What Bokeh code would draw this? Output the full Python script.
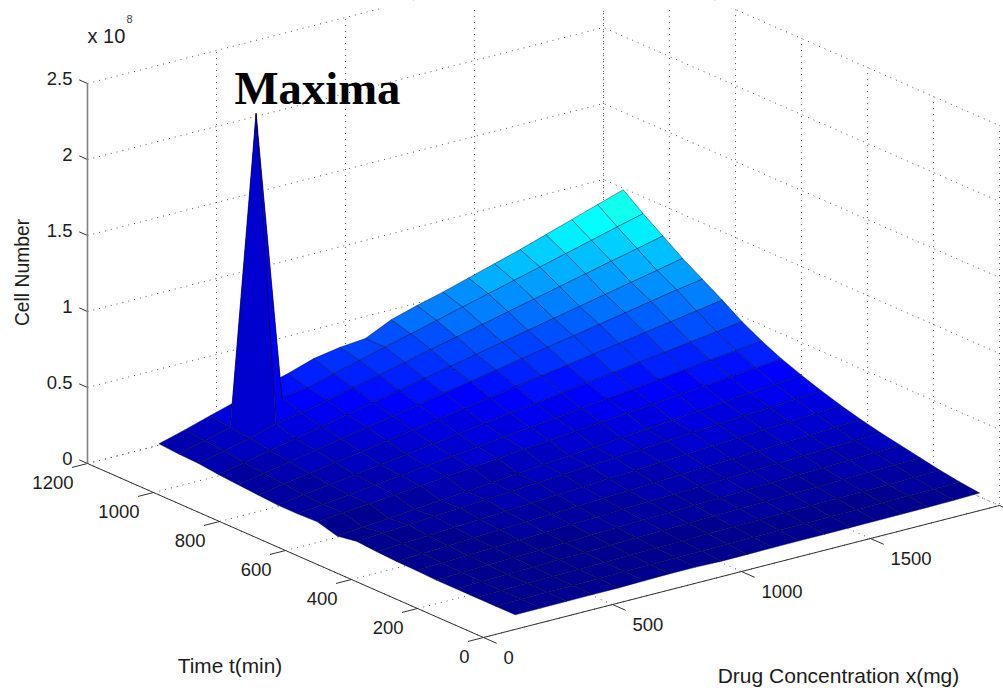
from bokeh.plotting import figure
from bokeh.models import Range1d
from bokeh.core.properties import value
from bokeh.embed import file_html
from bokeh.resources import INLINE
import numpy as np

drug_mg = [200, 300, 400, 500, 600, 700, 800, 900, 1000, 1100, 1200, 1300, 1400, 1500, 1600, 1700, 1800, 1900, 2000]
time_min = [60, 120, 180, 240, 300, 360, 420, 480, 540, 600, 660, 720, 780, 840, 900, 960, 1020, 1080, 1140]

# cell number in units of 1e8; one row per time_min, one column per drug_mg
cells_t60 = [.005, .006, .007, .008, .008, .012, .015, .015, .011, .012, .013, .014, .014, .015, .016, .017, .018, .020, .025]
cells_t120 = [.005, .007, .009, .011, .013, .015, .017, .019, .021, .023, .024, .026, .028, .030, .032, .034, .036, .038, .040]
cells_t180 = [.005, .008, .011, .014, .017, .020, .023, .026, .029, .033, .036, .039, .042, .045, .048, .051, .054, .057, .060]
cells_t240 = [.005, .009, .014, .018, .023, .027, .032, .036, .041, .045, .049, .054, .058, .063, .067, .072, .076, .081, .085]
cells_t300 = [.005, .011, .017, .023, .028, .034, .040, .046, .052, .057, .063, .069, .075, .081, .087, .092, .098, .104, .110]
cells_t360 = [.010, .017, .024, .031, .038, .045, .052, .059, .066, .073, .079, .086, .093, .100, .107, .114, .121, .128, .135]
cells_t420 = [.013, .021, .030, .038, .047, .055, .064, .072, .081, .089, .097, .106, .114, .123, .131, .140, .148, .157, .165]
cells_t480 = [.020, .030, .040, .050, .060, .070, .080, .090, .100, .110, .120, .130, .140, .150, .160, .170, .180, .190, .200]
cells_t540 = [.030, .042, .053, .065, .077, .088, .100, .112, .123, .135, .147, .158, .170, .182, .193, .205, .217, .228, .240]
cells_t600 = [.008, .024, .039, .054, .070, .085, .100, .116, .131, .146, .162, .177, .192, .208, .223, .238, .254, .269, .285]
cells_t660 = [.045, .061, .077, .093, .109, .126, .142, .158, .174, .190, .206, .222, .238, .254, .271, .287, .303, .319, .335]
cells_t720 = [.040, .060, .079, .099, .119, .139, .158, .178, .198, .218, .237, .257, .277, .296, .316, .336, .356, .375, .395]
cells_t780 = [.040, .064, .087, .111, .134, .158, .182, .205, .229, .253, .276, .300, .323, .347, .371, .394, .418, .441, .465]
cells_t840 = [.050, .078, .106, .133, .161, .189, .217, .244, .272, .300, .328, .356, .383, .411, .439, .467, .494, .522, .550]
cells_t900 = [.060, .092, .124, .156, .188, .220, .252, .284, .316, .348, .379, .411, .443, .475, .507, .539, .571, .603, .630]
cells_t960 = [.070, .106, .141, .177, .212, .248, .283, .319, .354, .390, .426, .461, .497, .532, .568, .603, .639, .674, .710]
cells_t1020 = [.085, .125, .164, .220, .244, .284, .323, .363, .403, .443, .482, .522, .562, .602, .641, .681, .721, .760, .800]
cells_t1080 = [.090, .134, .180, 2.20, .290, .310, .357, .401, .446, .490, .534, .579, .623, .668, .712, .757, .801, .846, .890]
cells_t1140 = [.100, .148, .200, .250, .300, .345, .400, .430, .445, .525, .575, .620, .670, .720, .770, .825, .880, .935, .990]

x_ticks = [0, 500, 1000, 1500, 2000]
t_ticks = [0, 200, 400, 600, 800, 1000, 1200]
z_ticks = [0, 0.5, 1, 1.5, 2, 2.5]
x_tick_labels = ["0", "500", "1000", "1500"]
t_tick_labels = ["0", "200", "400", "600", "800", "1000", "1200"]
z_tick_labels = ["0", "0.5", "1", "1.5", "2", "2.5"]

X_MAX, T_MAX, Z_MAX = 2000, 1200, 2.5
cells = np.array([cells_t60, cells_t120, cells_t180, cells_t240, cells_t300, cells_t360, cells_t420,
                  cells_t480, cells_t540, cells_t600, cells_t660, cells_t720, cells_t780, cells_t840,
                  cells_t900, cells_t960, cells_t1020, cells_t1080, cells_t1140])


def sx(x, t, z=0.0):
    return 483 + np.asarray(x) * 0.258 - np.asarray(t) * 0.33


def sy(x, t, z=0.0):
    return 637 - np.asarray(x) * 0.066 - np.asarray(t) * 0.145 - np.asarray(z) * 152


def jet(v):
    i = int(np.clip(np.floor(v * 64), 0, 63))
    f = (i + 1) / 64
    r = np.clip(min(4 * f - 1.5, -4 * f + 4.5), 0, 1)
    g = np.clip(min(4 * f - 0.5, -4 * f + 3.5), 0, 1)
    b = np.clip(min(4 * f + 0.5, -4 * f + 2.5), 0, 1)
    return "#%02x%02x%02x" % (round(r * 255), round(g * 255), round(b * 255))


p = figure(width=1003, height=688, x_range=Range1d(0, 1003), y_range=Range1d(688, 0),
           x_axis_type=None, y_axis_type=None, toolbar_location=None, output_backend="svg",
           min_border=0, outline_line_color=None, background_fill_color="white")
p.grid.visible = False

# grid
gx, gy = [], []
for z in z_ticks:
    gx.append(list(sx([0, X_MAX, X_MAX], [T_MAX, T_MAX, 0])))
    gy.append(list(sy([0, X_MAX, X_MAX], [T_MAX, T_MAX, 0], [z, z, z])))
for x in x_ticks:
    gx.append(list(sx([x, x, x], [0, T_MAX, T_MAX])))
    gy.append(list(sy([x, x, x], [0, T_MAX, T_MAX], [0, 0, Z_MAX])))
for t in t_ticks:
    gx.append(list(sx([0, X_MAX, X_MAX], [t, t, t])))
    gy.append(list(sy([0, X_MAX, X_MAX], [t, t, t], [0, 0, Z_MAX])))
p.multi_line(gx, gy, line_color="#555555", line_width=1, line_dash="1 5")
# the reference picture is cropped just above the box
p.quad(left=[0], right=[1003], top=[0], bottom=[8], fill_color="white", line_color=None)

# surface, far cells first
clim = cells.max()
fx, fy, fc = [], [], []
for j in range(len(time_min) - 2, -1, -1):
    for i in range(len(drug_mg) - 2, -1, -1):
        xs = [drug_mg[i], drug_mg[i + 1], drug_mg[i + 1], drug_mg[i]]
        ts = [time_min[j], time_min[j], time_min[j + 1], time_min[j + 1]]
        zs = [cells[j, i], cells[j, i + 1], cells[j + 1, i + 1], cells[j + 1, i]]
        fx.append(list(sx(xs, ts)))
        fy.append(list(sy(xs, ts, zs)))
        fc.append(jet(cells[j, i] / clim))
p.patches(fx, fy, fill_color=fc, line_color="#000030", line_width=0.8, line_alpha=0.5)

# axes and ticks
ax_x = [list(sx([0, X_MAX], [0, 0])), list(sx([0, 0], [0, T_MAX]))]
ax_y = [list(sy([0, X_MAX], [0, 0])), list(sy([0, 0], [0, T_MAX]))]
for x in x_ticks:
    ax_x.append(list(sx([x, x], [0, -40])))
    ax_y.append(list(sy([x, x], [0, -40])))
for t in t_ticks:
    ax_x.append(list(sx([0, -60], [t, t])))
    ax_y.append(list(sy([0, -60], [t, t])))
for z in z_ticks:
    ax_x.append(list(sx([0, 0], [T_MAX, T_MAX + 25])))
    ax_y.append(list(sy([0, 0], [T_MAX, T_MAX + 25], [z, z])))
p.multi_line(ax_x, ax_y, line_color="#333333", line_width=1)
p.line(sx([0, 0], [T_MAX, T_MAX]), sy([0, 0], [T_MAX, T_MAX], [0, Z_MAX]), line_color="#808080", line_width=1.6)

FONT = value("Liberation Sans")
TXT = "#1c1c1c"
p.text(sx(x_ticks[:-1], [0] * 4) + 20, sy(x_ticks[:-1], [0] * 4) + 20, text=x_tick_labels, text_font=FONT,
       text_font_size="18.5px", text_align="left", text_baseline="middle", text_color=TXT)
p.text(sx([0] * 7, t_ticks) - 14, sy([0] * 7, t_ticks) + 18.5, text=t_tick_labels, text_font=FONT,
       text_font_size="18.5px", text_align="right", text_baseline="middle", text_color=TXT)
p.text(sx([0] * 6, [T_MAX] * 6) - 15, sy([0] * 6, [T_MAX] * 6, z_ticks) - 5, text=z_tick_labels, text_font=FONT,
       text_font_size="18.5px", text_align="right", text_baseline="middle", text_color=TXT)

p.text([87], [35], text=["x 10"], text_font=FONT, text_font_size="20px", text_align="left",
       text_baseline="middle", text_color=TXT)
p.text([129], [18], text=["8"], text_font=FONT, text_font_size="11px", text_align="center",
       text_baseline="middle", text_color="#444444")
p.text([229.5], [664.5], text=["Time t(min)"], text_font=FONT, text_font_size="20.8px", text_align="center",
       text_baseline="middle", text_color=TXT)
p.text([838], [675], text=["Drug Concentration x(mg)"], text_font=FONT, text_font_size="21px", text_align="center",
       text_baseline="middle", text_color=TXT)
p.text([22], [272], text=["Cell Number"], text_font=FONT, text_font_size="19.3px", text_align="center",
       text_baseline="middle", angle=np.pi / 2, text_color=TXT)
p.text([234], [87], text=["Maxima"], text_font=value("Liberation Serif"), text_font_style="bold",
       text_font_size="46.7px", text_align="left", text_baseline="alphabetic", text_color="black")

open("out.html", "w").write(file_html(p, INLINE))
